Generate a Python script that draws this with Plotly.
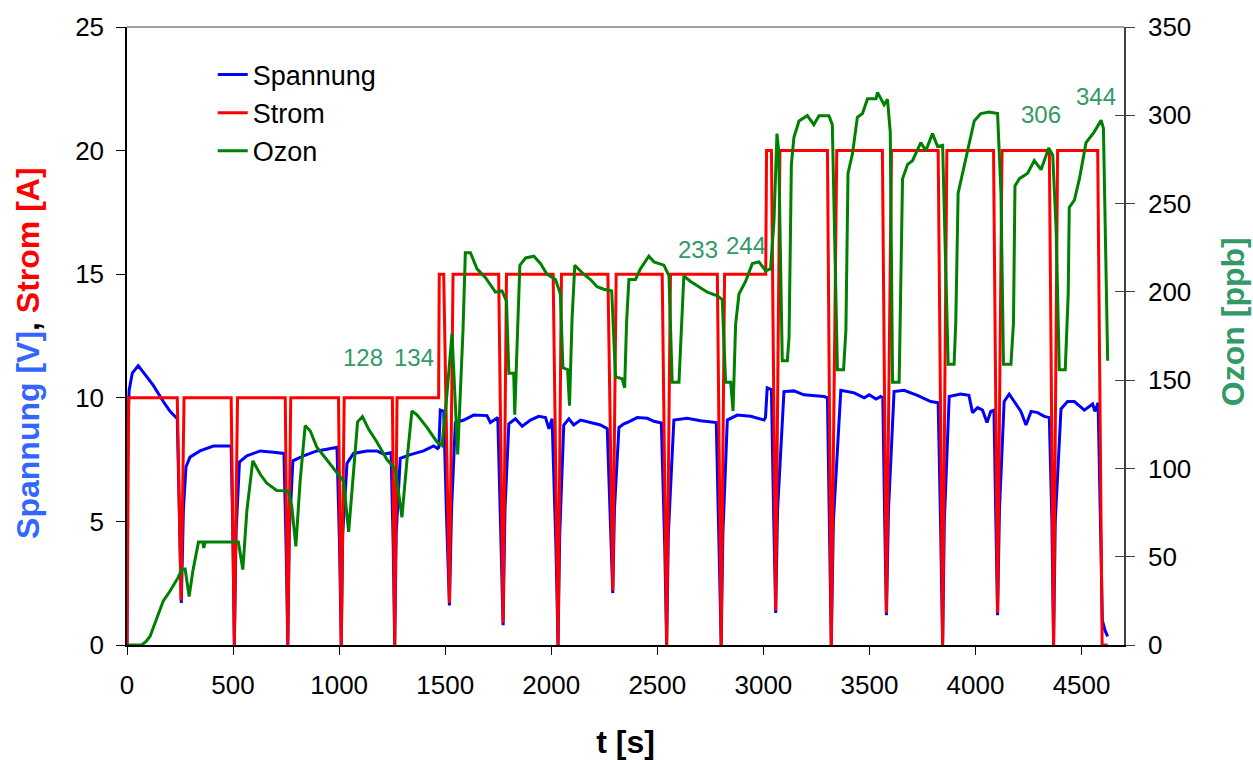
import plotly.graph_objects as go

FONT = "Liberation Sans, Arial, sans-serif"

# ---- Strom [A] ----
t_strom = [0, 8, 237, 255, 269, 491, 506, 521, 746, 758, 772, 997, 1010, 1024,
           1251, 1262, 1273, 1469, 1472, 1493, 1520, 1537, 1752, 1773, 1789,
           2009, 2032, 2048, 2267, 2290, 2306, 2523, 2544, 2562, 2783, 2801, 2817,
           3011, 3015, 3038, 3058, 3078, 3302, 3320, 3346, 3561, 3580, 3604,
           3824, 3845, 3865, 4085, 4104, 4125, 4348, 4368, 4387, 4576, 4597, 4623]
i_strom = [0, 10, 10, 1.8, 10, 10, 0, 10, 10, 0, 10, 10, 0, 10,
           10, 0, 10, 10, 15, 15, 1.7, 15, 15, 0.9, 15,
           15, 0, 15, 15, 2.2, 15, 15, 0, 15, 15, 0, 15,
           15, 20, 20, 1.4, 20, 20, 0, 20, 20, 1.3, 20,
           20, 0, 20, 20, 1.3, 20, 20, 0, 20, 20, 0, 0]

# ---- Spannung [V] ----
t_spannung = [0, 3, 10, 25, 53, 90, 124, 171, 203, 237,
              248, 256, 266,
              278, 297, 344, 407, 491,
              500, 506, 514,
              530, 565, 628, 690, 740,
              750, 758, 765,
              782, 832, 895, 942, 990,
              1002, 1010, 1017,
              1037, 1068, 1131, 1178, 1210, 1245,
              1255, 1262, 1269,
              1288, 1336, 1398, 1446, 1464, 1470, 1477, 1493,
              1507, 1520, 1530,
              1548, 1588, 1634, 1697, 1713, 1748,
              1762, 1773, 1782,
              1800, 1831, 1863, 1902, 1941, 1973, 1989, 2004,
              2022, 2032, 2040,
              2059, 2083, 2106, 2138, 2185, 2232, 2264,
              2280, 2290, 2298,
              2319, 2342, 2358, 2405, 2453, 2484, 2519,
              2535, 2544, 2552,
              2578, 2641, 2704, 2778,
              2792, 2801, 2809,
              2830, 2877, 2940, 3003, 3010, 3018, 3038,
              3049, 3058, 3067,
              3097, 3144, 3191, 3286, 3302,
              3311, 3320, 3330,
              3365, 3428, 3475, 3499, 3531, 3553, 3563,
              3572, 3580, 3590,
              3616, 3663, 3726, 3789, 3824,
              3835, 3845, 3853,
              3876, 3930, 3969, 3986, 4010, 4033, 4054, 4072, 4087,
              4096, 4104, 4113,
              4135, 4159, 4183, 4214, 4238, 4262, 4293, 4324, 4348,
              4360, 4368, 4376,
              4403, 4434, 4466, 4513, 4552, 4563, 4578,
              4598, 4610, 4623]
v_spannung = [0, 8.5, 10.3, 11.0, 11.3, 10.9, 10.5, 9.85, 9.45, 9.15,
              5, 1.7, 5.5,
              7.2, 7.6, 7.85, 8.05, 8.05,
              4, 0, 4.5,
              7.4, 7.65, 7.85, 7.8, 7.75,
              4, 0, 4.5,
              7.45, 7.65, 7.85, 7.92, 8.0,
              4, 0, 4.5,
              7.35, 7.75, 7.85, 7.85, 7.72, 7.78,
              4, 0, 4.5,
              7.55, 7.7, 7.85, 8.05, 7.95, 8.0, 9.5, 9.45,
              5, 1.6, 5.5,
              9.0, 9.1, 9.3, 9.28, 9.0, 9.2,
              5, 0.8, 5.5,
              8.95, 9.15, 8.85, 9.1, 9.25, 9.2, 8.75, 9.15,
              4, 0, 4.5,
              8.9, 9.15, 8.9, 9.1, 9.0, 8.9, 8.75,
              5, 2.1, 5.5,
              8.8, 8.95, 9.0, 9.2, 9.17, 9.05, 8.98,
              4, 0, 4.5,
              9.1, 9.17, 9.07, 9.0,
              4, 0, 4.5,
              9.1, 9.3, 9.25, 9.1, 9.2, 10.4, 10.33,
              5, 1.3, 5.5,
              10.25, 10.28, 10.12, 10.05, 10.0,
              5, 0, 5,
              10.3, 10.2, 10.0, 10.12, 9.95, 10.05, 10.0,
              5, 1.2, 5.5,
              10.25, 10.3, 10.1, 9.85, 9.8,
              5, 0, 5,
              10.05, 10.15, 10.1, 9.4, 9.6, 9.5, 9.0, 9.45, 9.5,
              5, 1.2, 5.5,
              9.85, 10.15, 9.85, 9.45, 8.9, 9.45, 9.4, 9.25, 9.2,
              5, 0, 5,
              9.55, 9.85, 9.85, 9.5, 9.75, 9.45, 9.8,
              1.0, 0.6, 0.35]

# ---- Ozon [ppb] ----
t_ozon = [0, 69, 90, 109, 140, 171, 200, 219, 240, 258, 274, 293, 310, 337, 357, 362, 368,
          525, 546, 565, 593, 628, 659, 706, 761, 777, 796, 816, 840, 864, 895, 942, 989,
          1021, 1045, 1068, 1087, 1110, 1140, 1178, 1226, 1265, 1296, 1320, 1343, 1367,
          1414, 1461, 1485, 1508, 1532, 1559, 1584, 1595, 1619, 1650, 1690, 1737, 1768,
          1789, 1800, 1823, 1828, 1839, 1852, 1879, 1918, 1949, 1980, 2020, 2043, 2055,
          2077, 2086, 2098, 2111, 2153, 2185, 2216, 2248, 2285, 2303, 2334, 2346, 2355,
          2366, 2397, 2420, 2460, 2484, 2531, 2555, 2570, 2602, 2613, 2625, 2657, 2696,
          2736, 2783, 2806, 2822, 2846, 2857, 2869, 2885, 2916, 2948, 2979, 3011, 3034,
          3050, 3064, 3072, 3089, 3113, 3121, 3132, 3144, 3168, 3207, 3238, 3262, 3309,
          3325, 3349, 3378, 3389, 3399, 3420, 3443, 3467, 3491, 3531, 3538, 3569, 3585,
          3598, 3609, 3640, 3656, 3680, 3703, 3742, 3766, 3797, 3821, 3845, 3856, 3871,
          3899, 3907, 3918, 3962, 3994, 4025, 4064, 4104, 4120, 4132, 4167, 4179, 4186,
          4207, 4246, 4277, 4309, 4345, 4364, 4380, 4395, 4423, 4437, 4442, 4466, 4490,
          4521, 4560, 4592, 4603, 4623]
o_ozon = [0, 0, 2, 5, 15, 25, 30, 33.5, 38, 42.7, 43, 27.4, 41.6, 58.3, 58.3, 55, 58.3,
          58.3, 42.7, 76, 104.3, 96.7, 91.6, 87.5, 87.3, 78.4, 55.9, 92.7, 124.3, 121.2, 112, 104.9, 97.8,
          92.7, 64.1, 100.8, 126.4, 129.4, 122, 115, 104.9, 99.8, 72.3, 104.9, 132.5, 130.4,
          123.3, 115, 113, 141.6, 176.4, 107.9, 178.4, 222.2, 222.2, 213, 208, 199.8, 200.5,
          194.7, 153.9, 153.9, 130.4, 170.2, 215.1, 219.2, 220.2, 216.1, 210, 207, 198.8, 157,
          156, 135.5, 184.5, 215.1, 210, 207, 202.9, 201.5, 200.5, 151.8, 150.8, 145.7, 182.5,
          207, 207, 213, 220.2, 217, 215.1, 209, 148.8, 148.8, 181.5, 209, 205.9, 202.9,
          199.8, 197.8, 195.7, 148.8, 148.8, 132.5, 181.5, 198.8, 205.9, 216.1, 217, 212, 213,
          240, 289.6, 280, 161, 161, 174.3, 272.2, 287.5, 296.8, 299.8, 294.7, 299.8, 299.8,
          294.7, 155.9, 155.9, 178.4, 267.2, 278.3, 298.8, 301, 309.4, 309.4, 313, 306, 309,
          290.6, 148.8, 148.8, 264.1, 272.2, 274.3, 284.5, 280, 289.6, 282.4, 283, 231.4, 159,
          159, 182.5, 255.9, 279.4, 296.8, 301, 301.9, 301, 255.9, 159, 159, 182.5, 260,
          264.1, 267.2, 274.3, 269.2, 281.5, 277.4, 235.5, 155.9, 155.9, 198.8, 247.8, 251.9, 264.1,
          284.5, 290.6, 297.2, 292.7, 161]

# ---- peak labels (ozone) ----
ann_text = ["128", "134", "233", "244", "306", "344"]
ann_t = [1114, 1354, 2690, 2917, 4309, 4568]
ann_o = [163, 163, 224, 226.5, 300.7, 310.4]

x_ticks = [0, 500, 1000, 1500, 2000, 2500, 3000, 3500, 4000, 4500]

fig = go.Figure()
fig.add_trace(go.Scatter(x=t_spannung, y=v_spannung, name="Spannung", mode="lines",
                         line=dict(color="#0000FF", width=3)))
fig.add_trace(go.Scatter(x=t_strom, y=i_strom, name="Strom", mode="lines",
                         line=dict(color="#FF0000", width=3)))
fig.add_trace(go.Scatter(x=t_ozon, y=o_ozon, name="Ozon", mode="lines", yaxis="y2",
                         line=dict(color="#008000", width=3)))
# invisible helper so the crossing inner ticks of the right axis get drawn
fig.add_trace(go.Scatter(x=[0], y=[0], yaxis="y3", mode="lines", showlegend=False,
                         hoverinfo="skip", line=dict(width=0)))

for txt, tx, oy in zip(ann_text, ann_t, ann_o):
    fig.add_annotation(x=tx, y=oy, xref="x", yref="y2", text=txt, showarrow=False,
                       font=dict(family=FONT, size=24, color="#339966"))

# axis titles of the two y axes
fig.add_annotation(x=-0.0994, y=0.4725, xref="paper", yref="paper", textangle=-90,
                   xanchor="center", yanchor="middle", showarrow=False,
                   text="<b><span style='color:#3366FF'>Spannung [V]</span>, "
                        "<span style='color:#FF0000'>Strom [A]</span></b>",
                   font=dict(family=FONT, size=32, color="black"))
fig.add_annotation(x=1.1095, y=0.5227, xref="paper", yref="paper", textangle=-90,
                   xanchor="center", yanchor="middle", showarrow=False,
                   text="<b>Ozon [ppb]</b>",
                   font=dict(family=FONT, size=32, color="#339966"))

fig.add_shape(type="line", xref="paper", yref="paper", x0=0, x1=1, y0=1, y1=1,
              line=dict(color="#808080", width=1.5))

tickfont = dict(family=FONT, size=26, color="black")
fig.update_layout(
    width=1253, height=760,
    margin=dict(l=127, r=129, t=27, b=115),
    paper_bgcolor="white", plot_bgcolor="white",
    font=dict(family=FONT, color="black"),
    showlegend=True,
    legend=dict(x=0.086, y=0.962, xanchor="left", yanchor="top",
                font=dict(family=FONT, size=27, color="black"),
                bgcolor="rgba(0,0,0,0)", borderwidth=0),
    xaxis=dict(range=[0, 4700], tickvals=x_ticks, ticks="outside", ticklen=8,
               tickcolor="black", showline=True, linecolor="black", linewidth=1.5,
               showgrid=False, zeroline=False, tickfont=tickfont, ticklabelstandoff=8,
               automargin=False,
               title=dict(text="<b>t [s]</b>", font=dict(family=FONT, size=32), standoff=34)),
    yaxis=dict(range=[0, 25], dtick=5, ticks="outside", ticklen=9, tickcolor="black",
               showline=True, linecolor="black", linewidth=1.5, showgrid=False,
               zeroline=False, tickfont=tickfont, ticklabelstandoff=7,
               automargin=False),
    yaxis2=dict(range=[0, 350], dtick=50, overlaying="y", side="right", anchor="x",
                ticks="outside", ticklen=9, tickcolor="#404040", showline=True,
                linecolor="#404040", linewidth=1.5, showgrid=False, zeroline=False,
                tickfont=tickfont, ticklabelstandoff=8, automargin=False),
    yaxis3=dict(range=[0, 350], dtick=50, overlaying="y", side="right", anchor="x",
                ticks="inside", ticklen=9, tickcolor="#404040", showline=False,
                showgrid=False, zeroline=False, showticklabels=False, automargin=False),
)

fig.write_html("out.html")
